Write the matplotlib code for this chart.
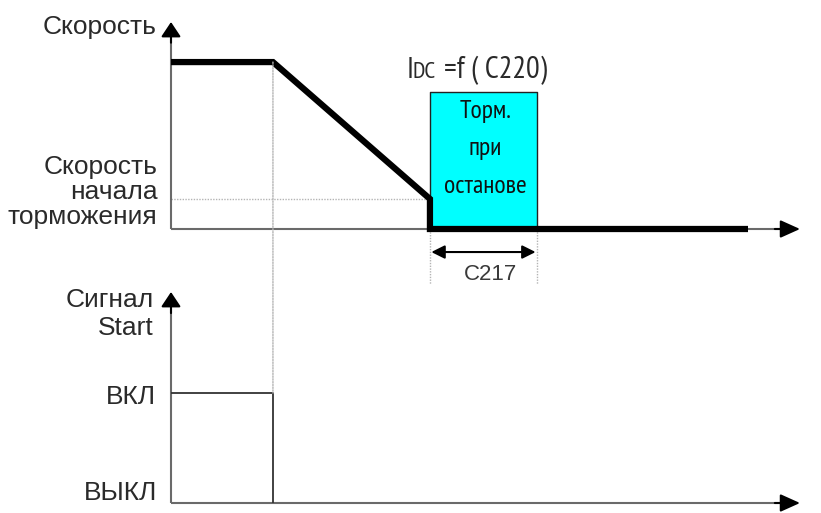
import matplotlib
matplotlib.use("Agg")
import matplotlib.pyplot as plt
from matplotlib.patches import ConnectionPatch

# ---------------- data ----------------
# top chart: speed profile (time units, speed normalised to 1)
speed_t = [0.0, 1.0, 2.54, 2.54, 5.66]
speed_v = [1.0, 1.0, 0.18, 0.0, 0.0]
brake_speed = 0.18
dc_start, dc_end = 2.54, 3.59
dc_level = 0.82
t_axis_end = 6.17
v_axis_end = 1.24

# bottom chart: start signal
sig_t = [0.0, 1.0, 1.0]
sig_v = [1.0, 1.0, 0.0]
s_axis_end = 1.92

speed_labels = ["Скорость", "Скорость\nначала\nторможения"]
signal_labels = ["Сигнал\nStart", "ВКЛ", "ВЫКЛ"]
box_text = ["Торм.", "при", "останове"]
dc_label = ["I", "DC", "=f ( C220)"]
dc_time_label = "C217"

# ---------------- style ----------------
WIDE = ["Liberation Sans", "DejaVu Sans"]
NARROW = ["PT Sans Narrow", "Liberation Sans", "DejaVu Sans"]
plt.rcParams["font.family"] = WIDE
TXT = "#2a2a2a"
TXT_N = "#111111"
AX = "#6a6a6a"
DOT = "#b4b4b4"

W, H = 821, 513
fig = plt.figure(figsize=(W / 100, H / 100), dpi=100)

def px_axes(left, right, y0, ytop):
    return fig.add_axes([left / W, (H - y0) / H, (right - left) / W, (y0 - ytop) / H])

ax1 = px_axes(171, 800, 229, 22)
ax2 = px_axes(171, 800, 503, 292)
for ax, ytop in ((ax1, v_axis_end), (ax2, s_axis_end)):
    ax.set_xlim(0, t_axis_end)
    ax.set_ylim(0, ytop)
    ax.axis("off")

def axis_arrows(ax, xend, yend):
    ax.plot([0, xend * 0.985], [0, 0], color=AX, lw=1.5, solid_capstyle="butt", clip_on=False, zorder=2)
    ax.plot([0, 0], [0, yend * 0.97], color=AX, lw=1.5, solid_capstyle="butt", clip_on=False, zorder=2)
    ax.annotate("", xy=(xend, 0), xytext=(xend * 0.96, 0),
                arrowprops=dict(arrowstyle="-|>,head_length=0.6,head_width=0.27", color="black", lw=1.5,
                                shrinkA=0, shrinkB=0, mutation_scale=20),
                annotation_clip=False)
    ax.annotate("", xy=(0, yend), xytext=(0, yend * 0.9),
                arrowprops=dict(arrowstyle="-|>,head_length=0.45,head_width=0.3", color="black", lw=1.5,
                                shrinkA=0, shrinkB=0, mutation_scale=20),
                annotation_clip=False)

axis_arrows(ax1, t_axis_end, v_axis_end)
axis_arrows(ax2, t_axis_end, s_axis_end)

# DC braking box
ax1.fill_between([dc_start, dc_end], 0, dc_level, facecolor="#00ffff", edgecolor="#222222", lw=1.0, zorder=3)
box_y = [0.705, 0.48, 0.255]
for s, y in zip(box_text, box_y):
    ax1.text((dc_start + dc_end) / 2 + 0.02, y, s, ha="center", va="center", fontsize=18.5,
             family=NARROW, color=TXT_N, zorder=5)

# dotted guides
dots = dict(ls=(0, (1, 1)), color=DOT, lw=1.0)
ax1.plot([0, dc_start], [brake_speed, brake_speed], zorder=1, **dots)
fig.add_artist(ConnectionPatch(xyA=(sig_t[1], speed_v[1]), coordsA=ax1.transData,
                               xyB=(sig_t[1], sig_v[1]), coordsB=ax2.transData, zorder=1, **dots))
for x in (dc_start, dc_end):
    ax1.plot([x, x], [0, -0.33], zorder=1, clip_on=False, **dots)

# speed profile
ax1.plot(speed_t, speed_v, color="black", lw=4.5, solid_joinstyle="miter", solid_capstyle="butt",
         zorder=6, clip_on=False)

# C217 double arrow
ax1.annotate("", xy=(dc_end, -0.138), xytext=(dc_start, -0.138),
             arrowprops=dict(arrowstyle="<|-|>,head_length=0.5,head_width=0.25", color="black", lw=1.5,
                             shrinkA=1, shrinkB=1, mutation_scale=16), annotation_clip=False)
ax1.text(3.13, -0.275, dc_time_label, ha="center", va="center", fontsize=16,
         color="#3a3a3a", clip_on=False)

# I_DC label
ax1.text(2.31, 0.905, dc_label[0], ha="left", va="baseline", fontsize=21.5, family=NARROW, color=TXT)
ax1.text(2.37, 0.905, dc_label[1], ha="left", va="baseline", fontsize=17, family=NARROW, color=TXT)
ax1.text(2.68, 0.905, dc_label[2], ha="left", va="baseline", fontsize=22, family=NARROW, color=TXT)

# signal
ax2.plot(sig_t, sig_v, color="#333333", lw=1.3, zorder=4)

# axis labels
ax1.text(-0.14, v_axis_end - 0.03, speed_labels[0], ha="right", va="center", fontsize=19, color=TXT)
ax1.text(-0.13, 0.22, speed_labels[1], ha="right", va="center", fontsize=19, color=TXT, linespacing=1.06)
ax2.text(-0.17, 1.72, signal_labels[0], ha="right", va="center", fontsize=19, color=TXT, linespacing=1.25)
ax2.text(-0.15, 0.96, signal_labels[1], ha="right", va="center", fontsize=19, color=TXT)
ax2.text(-0.13, 0.09, signal_labels[2], ha="right", va="center", fontsize=19, color=TXT)

fig.savefig("out.png", dpi=100, facecolor="white")
